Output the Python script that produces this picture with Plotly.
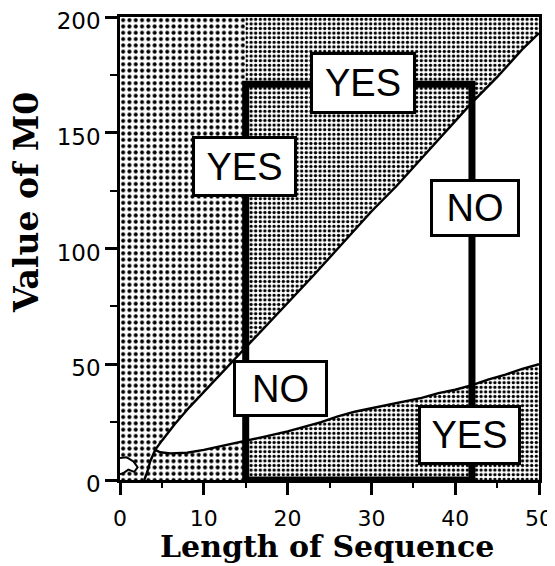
import plotly.graph_objects as go

# ---- data ----
# diagonal boundary (upper curve)
diag_x = [2.9, 3.3, 3.6, 4.2, 5.0, 6.5, 8.3, 10.0, 12.5, 15.0, 18.0, 20.0, 23.0, 26.0, 30.0, 33.0, 36.0, 40.0, 42.0, 45.0, 48.0, 50.0]
diag_y = [0.0, 4.0, 8.0, 13.0, 17.0, 24.0, 31.5, 38.0, 47.5, 57.0, 68.5, 76.5, 88.0, 100.0, 116.0, 127.0, 139.0, 155.0, 163.0, 174.0, 186.0, 193.0]
# lower curve
low_x = [4.2, 4.8, 6.0, 8.0, 10.0, 12.0, 15.0, 17.0, 20.0, 22.0, 24.0, 26.0, 28.0, 30.0, 32.0, 34.0, 36.0, 38.0, 40.0, 42.0, 44.0, 46.0, 48.0, 50.0]
low_y = [13.0, 12.0, 11.5, 11.8, 13.0, 14.5, 17.0, 18.5, 21.0, 23.0, 25.0, 27.5, 29.5, 31.0, 32.5, 34.0, 35.5, 37.5, 39.0, 41.0, 43.5, 45.5, 48.0, 50.0]
# small white blob near the origin
blob_x = [0.0, 0.8, 1.6, 2.1, 1.7, 1.0, 0.4, 0.0]
blob_y = [9.5, 9.8, 8.0, 5.5, 3.5, 4.5, 3.0, 2.5]
# thick decision rectangle
rect_x = [15, 15, 42, 42, 15]
rect_y = [0, 171, 171, 0, 0]
# box labels
label_text = ["YES", "YES", "NO", "NO", "YES"]
label_x = [29.0, 14.8, 42.4, 19.2, 41.7]
label_y = [171.5, 135.4, 117.5, 39.5, 19.4]
label_w = [100, 99, 84, 89, 97]
label_h = [56, 55, 52, 51, 54]

x_ticks = [0, 10, 20, 30, 40, 50]
y_ticks = [0, 50, 100, 150, 200]
X_MAX, Y_MAX = 50, 200
SPLIT = 15

fig = go.Figure()

sparse = dict(shape=".", size=6.3, solidity=0.32, fgcolor="black", bgcolor="white", fgopacity=1)
dense = dict(shape=".", size=4.6, solidity=0.42, fgcolor="black", bgcolor="white", fgopacity=1)

def add_fill(xs, ys, pat):
    fig.add_trace(go.Scatter(x=xs, y=ys, mode="lines", fill="toself", line=dict(width=0),
                             fillcolor="white", fillpattern=pat, hoverinfo="skip", showlegend=False))

# upper region, left part
di = diag_x.index(SPLIT)
ux = [0, diag_x[0]] + diag_x[:di + 1] + [SPLIT, 0]
uy = [0, 0] + diag_y[:di + 1] + [Y_MAX, Y_MAX]
add_fill(ux, uy, sparse)
# upper region, right part
ux = diag_x[di:] + [X_MAX, SPLIT]
uy = diag_y[di:] + [Y_MAX, Y_MAX]
add_fill(ux, uy, dense)
# lower region, left part
li = low_x.index(SPLIT)
lx = diag_x[:4] + low_x[1:li + 1] + [SPLIT]
ly = diag_y[:4] + low_y[1:li + 1] + [0]
add_fill(lx, ly, sparse)
# lower region, right part
lx = low_x[li:] + [X_MAX, SPLIT]
ly = low_y[li:] + [0, 0]
add_fill(lx, ly, dense)

# blob
fig.add_trace(go.Scatter(x=blob_x, y=blob_y, mode="lines", fill="toself", fillcolor="white",
                         line=dict(color="black", width=2), hoverinfo="skip", showlegend=False))
# curves
fig.add_trace(go.Scatter(x=diag_x, y=diag_y, mode="lines", line=dict(color="black", width=2.4),
                         hoverinfo="skip", showlegend=False))
fig.add_trace(go.Scatter(x=low_x, y=low_y, mode="lines", line=dict(color="black", width=2.4),
                         hoverinfo="skip", showlegend=False))
# thick rectangle
fig.add_trace(go.Scatter(x=rect_x, y=rect_y, mode="lines", line=dict(color="black", width=7),
                         hoverinfo="skip", showlegend=False, cliponaxis=False))

for t, x, y, w, h in zip(label_text, label_x, label_y, label_w, label_h):
    fig.add_annotation(x=x, y=y, xref="x", yref="y", text=t, showarrow=False,
                       width=w, height=h, bgcolor="white", bordercolor="black",
                       borderwidth=3, borderpad=0, align="center", valign="middle",
                       font=dict(family="Liberation Sans, Arial", size=38, color="black"))

# layout geometry: the page body has an 8px margin, so the figure is
# placed 8px right/down in the window; sizes below compensate for that.
OFF = 8
WIN_W, WIN_H = 555, 566
W, H = WIN_W - OFF, WIN_H - OFF
# desired window positions of the plot area
PX0, PX1, PY_TOP, PY_BOT = 120, 539, 17, 480
L, R, T, B = PX0 - OFF, W - (PX1 - OFF), PY_TOP - OFF, H - (PY_BOT - OFF)
pw, ph = W - L - R, H - T - B
def win_to_paper(px, py):
    return (px - PX0) / pw, (PY_BOT - py) / ph

ax, ay = win_to_paper(327, 546)
fig.add_annotation(x=ax, y=ay, xref="paper", yref="paper", xanchor="center", yanchor="middle",
                   text="<b>Length of Sequence</b>", showarrow=False,
                   font=dict(family="DejaVu Serif", size=30, color="black"))
bx, by = win_to_paper(26, 203)
fig.add_annotation(x=bx, y=by, xref="paper", yref="paper", xanchor="center", yanchor="middle",
                   text="<b>Value of M0</b>", showarrow=False, textangle=-90, height=30,
                   font=dict(family="DejaVu Serif", size=33, color="black"))

fig.update_xaxes(range=[0, X_MAX], tickvals=x_ticks, ticktext=[str(v) for v in x_ticks],
                 ticks="outside", ticklen=12, tickwidth=2.5, tickcolor="black",
                 showline=True, linewidth=2.5, linecolor="black", mirror=True,
                 showgrid=False, zeroline=False, ticklabeloverflow="allow",
                 tickfont=dict(family="DejaVu Sans", size=22, color="black"), ticklabelstandoff=5,
                 minor=dict(ticks="outside", dtick=5, ticklen=5, tickwidth=2, tickcolor="black", showgrid=False))
fig.update_yaxes(range=[0, Y_MAX], tickvals=y_ticks, ticktext=[str(v) for v in y_ticks],
                 ticks="outside", ticklen=12, tickwidth=2.5, tickcolor="black",
                 showline=True, linewidth=2.5, linecolor="black", mirror=True,
                 showgrid=False, zeroline=False, ticklabeloverflow="allow",
                 tickfont=dict(family="DejaVu Sans", size=23, color="black"), ticklabelstandoff=0,
                 ticklabelshift=4,
                 minor=dict(ticks="outside", dtick=25, ticklen=7, tickwidth=2, tickcolor="black", showgrid=False))

fig.update_layout(width=W, height=H, margin=dict(l=L, r=R, t=T, b=B, autoexpand=False),
                  paper_bgcolor="white", plot_bgcolor="white", showlegend=False)

fig.write_html("out.html")
